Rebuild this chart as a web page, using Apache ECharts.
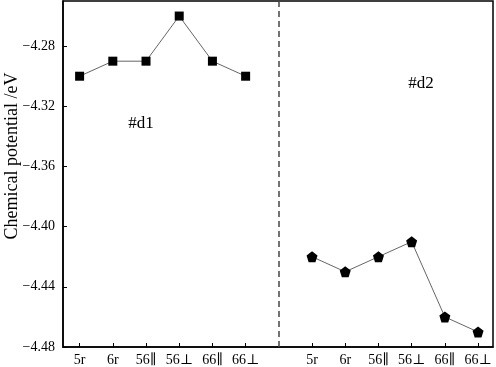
<!DOCTYPE html>
<html>
<head>
<meta charset="utf-8">
<script src="https://cdn.jsdelivr.net/npm/echarts@6/dist/echarts.min.js"></script>
<style>html,body{margin:0;padding:0;background:#fff}#c{width:496px;height:367px}</style>
</head>
<body>
<div id="c"></div>
<script>
const leftCategories = ['5r', '6r', '56\u2225', '56\u22a5', '66\u2225', '66\u22a5'];
const rightCategories = ['5r', '6r', '56\u2225', '56\u22a5', '66\u2225', '66\u22a5'];
const d1Values = [-4.30, -4.29, -4.29, -4.26, -4.29, -4.30];
const d2Values = [-4.42, -4.43, -4.42, -4.41, -4.46, -4.47];
const yTicks = [-4.48, -4.44, -4.40, -4.36, -4.32, -4.28];
const yTitle = 'Chemical potential /eV';
const panelLabels = ['#d1', '#d2'];

const categories = leftCategories.concat([''], rightCategories);
const dividerIndex = leftCategories.length;
const leftIdx = leftCategories.map((_, i) => i);
const rightIdx = rightCategories.map((_, i) => i + dividerIndex + 1);
const FONT = '"Liberation Serif", "Times New Roman", "DejaVu Serif", serif';
const pentagon = 'path://M0,-1 L0.951,-0.309 L0.588,0.809 L-0.588,0.809 L-0.951,-0.309 Z';

const chart = echarts.init(document.getElementById('c'), null, {renderer: 'canvas'});
chart.setOption({
  animation: false,
  backgroundColor: '#fff',
  grid: {left: 63, right: 3, top: 1, bottom: 19, show: true, borderColor: '#000', borderWidth: 1.5, backgroundColor: 'transparent'},
  xAxis: {
    type: 'value', min: -0.5, max: categories.length - 0.55,
    splitLine: {show: false},
    axisLine: {onZero: false, lineStyle: {color: '#000', width: 1.5}},
    axisTick: {inside: true, length: 4, lineStyle: {color: '#000', width: 1}, customValues: leftIdx.concat(rightIdx)},
    axisLabel: {customValues: leftIdx.concat(rightIdx), formatter: v => categories[Math.round(v)], color: '#000', fontFamily: FONT, fontSize: 14, margin: 6}
  },
  yAxis: {
    type: 'value', min: -4.48, max: -4.25,
    splitLine: {show: false},
    axisLine: {show: true, onZero: false, lineStyle: {color: '#000', width: 1.5}},
    axisTick: {show: true, inside: true, length: 4, lineStyle: {color: '#000', width: 1}, customValues: yTicks},
    axisLabel: {customValues: yTicks, formatter: v => '\u2212' + Math.abs(v).toFixed(2), color: '#000', fontFamily: FONT, fontSize: 14, margin: 8}
  },
  graphic: [
    {type: 'text', rotation: Math.PI / 2, x: 12, y: 156,
     style: {text: yTitle, font: '18px ' + FONT, fill: '#000', align: 'center', verticalAlign: 'middle'}},
    {type: 'text', x: 141, y: 124, style: {text: panelLabels[0], font: '17px ' + FONT, fill: '#000', align: 'center', verticalAlign: 'middle'}},
    {type: 'text', x: 421, y: 84, style: {text: panelLabels[1], font: '17px ' + FONT, fill: '#000', align: 'center', verticalAlign: 'middle'}}
  ],
  series: [
    {
      type: 'line', data: d1Values.map((v, i) => [leftIdx[i], v]),
      symbol: 'rect', symbolSize: 9,
      itemStyle: {color: '#000'}, lineStyle: {color: '#666', width: 1},
      markLine: {silent: true, symbol: 'none', label: {show: false},
        lineStyle: {color: '#444', width: 1.5, type: [6, 4]},
        data: [{xAxis: dividerIndex}]}
    },
    {
      type: 'line', data: d2Values.map((v, i) => [rightIdx[i], v]),
      symbol: pentagon, symbolSize: 11,
      itemStyle: {color: '#000'}, lineStyle: {color: '#666', width: 1}
    }
  ]
});
</script>
</body>
</html>
